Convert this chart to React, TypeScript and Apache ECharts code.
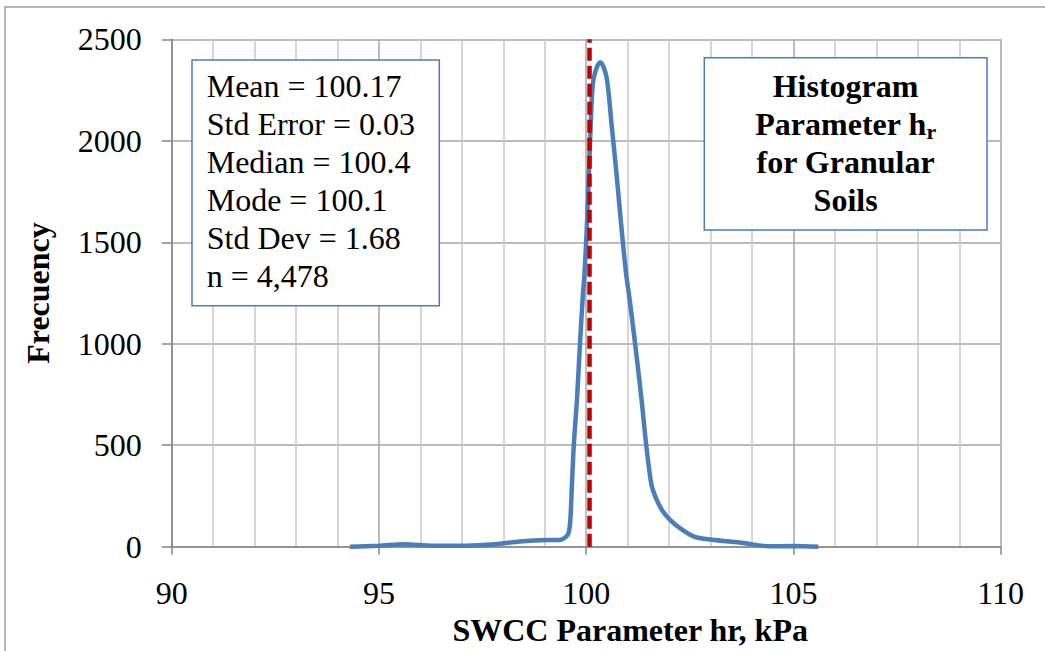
import React, { useEffect, useRef } from "react";
import * as echarts from "echarts";

// ---- data ----
const xValues = [
  94.3, 95.0, 95.6, 96.3, 97.1, 97.8, 98.4, 98.9, 99.35, 99.55, 99.61, 99.65, 99.7,
  99.78, 99.85, 99.92, 99.96, 100.02, 100.065, 100.11, 100.16, 100.25, 100.34, 100.49,
  100.61, 100.73, 100.84, 100.96, 101.04, 101.18, 101.33, 101.45, 101.57, 101.67,
  101.83, 102.03, 102.27, 102.6, 103.0, 103.8, 104.4, 105.0, 105.6,
];
const frequencies = [
  0, 5, 12, 5, 5, 12, 26, 32, 33, 57, 114, 278, 498,
  735, 1000, 1240, 1350, 1595, 1840, 2085, 2281, 2360, 2387, 2314,
  2085, 1840, 1595, 1350, 1230, 1000, 735, 498, 310, 245,
  180, 131, 90, 50, 35, 18, 2, 3, 0,
];
const markerX = 100.08;
const xMin = 90;
const xMax = 110;
const xStep = 5;
const yMin = 0;
const yMax = 2500;
const yStep = 500;
const statsLines = [
  "Mean = 100.17",
  "Std Error = 0.03",
  "Median = 100.4",
  "Mode = 100.1",
  "Std Dev = 1.68",
  "n = 4,478",
];
const titleLines = ["Histogram", "{b|Parameter h}{s|r}", "for Granular", "Soils"];
const xAxisTitle = "SWCC Parameter hr, kPa";
const yAxisTitle = "Frecuency";

const FONT = '"Liberation Serif", "Times New Roman", serif';

export default function App() {
  const ref = useRef<HTMLDivElement>(null);
  useEffect(() => {
    if (!ref.current) return;
    const chart = echarts.init(ref.current, undefined, { renderer: "svg" });
    const axisColor = "#868686";
    chart.setOption({
      animation: false,
      backgroundColor: "#ffffff",
      grid: { left: 171.7, top: 39.3, right: 44.3, bottom: 104.3, containLabel: false },
      xAxis: {
        type: "value",
        min: xMin,
        max: xMax,
        interval: xStep,
        name: xAxisTitle,
        nameLocation: "middle",
        nameGap: 58,
        nameTextStyle: {
          fontFamily: FONT,
          fontSize: 32,
          fontWeight: "bold",
          color: "#000",
          padding: [0, 0, 0, 88],
        },
        axisLine: { show: true, onZero: false, lineStyle: { color: axisColor, width: 1.5 } },
        axisTick: { show: true, length: 8, lineStyle: { color: axisColor, width: 1.5 } },
        minorTick: { show: false, splitNumber: 5 },
        splitLine: { show: true, lineStyle: { color: "#a6a6a6", width: 1.5 } },
        minorSplitLine: { show: true, lineStyle: { color: "#c8c8c8", width: 1.5 } },
        axisLabel: {
          fontFamily: FONT,
          fontSize: 32,
          color: "#000",
          margin: 30,
          formatter: (v: number) => String(v),
        },
      },
      yAxis: {
        type: "value",
        min: yMin,
        max: yMax,
        interval: yStep,
        name: yAxisTitle,
        nameLocation: "middle",
        nameGap: 118,
        nameRotate: 90,
        nameTextStyle: {
          fontFamily: FONT,
          fontSize: 32,
          fontWeight: "bold",
          color: "#000",
        },
        axisLine: { show: true, lineStyle: { color: axisColor, width: 1.5 } },
        axisTick: { show: true, length: 10, lineStyle: { color: axisColor, width: 1.5 } },
        splitLine: { show: true, lineStyle: { color: "#a6a6a6", width: 1.5 } },
        axisLabel: {
          fontFamily: FONT,
          fontSize: 32,
          color: "#000",
          margin: 30,
          formatter: (v: number) => String(v),
        },
      },
      series: [
        {
          type: "line",
          data: xValues.map((x, i) => [x, frequencies[i]]),
          smooth: 0.3,
          showSymbol: false,
          lineStyle: { color: "#4A7EBB", width: 4.5 },
          z: 2,
        },
        {
          type: "line",
          data: [
            [markerX, yMin],
            [markerX, yMax],
          ],
          showSymbol: false,
          lineStyle: { color: "#C00000", width: 4.5, type: [13, 5] },
          z: 3,
        },
      ],
      graphic: [
        {
          type: "rect",
          z: 100,
          silent: true,
          shape: { x: 5, y: 7, width: 1060, height: 680 },
          style: { fill: "none", stroke: "#a0a0a0", lineWidth: 1.5 },
        },
        {
          type: "rect",
          z: 100,
          shape: { x: 192, y: 60, width: 247.3, height: 245.7 },
          style: { fill: "#ffffff", stroke: "#4A7EBB", lineWidth: 1.5 },
        },
        {
          type: "text",
          z: 101,
          x: 206.7,
          y: 67,
          style: {
            text: statsLines.join("\n"),
            font: `32px ${FONT}`,
            lineHeight: 38,
            fill: "#000",
            align: "left",
            verticalAlign: "top",
          },
        },
        {
          type: "rect",
          z: 100,
          shape: { x: 704.3, y: 57.7, width: 282.7, height: 172.3 },
          style: { fill: "#ffffff", stroke: "#4A7EBB", lineWidth: 1.5 },
        },
        {
          type: "text",
          z: 101,
          x: 845.6,
          y: 66.5,
          style: {
            text: titleLines.join("\n"),
            font: `bold 32px ${FONT}`,
            lineHeight: 38,
            fill: "#000",
            align: "center",
            verticalAlign: "top",
            rich: {
              b: { font: `bold 32px ${FONT}`, lineHeight: 38, fill: "#000" },
              s: { font: `bold 22px ${FONT}`, lineHeight: 22, padding: [15, 0, 0, 0], fill: "#000" },
            },
          },
        },
      ],
    });
    return () => chart.dispose();
  }, []);
  return (
    <div
      ref={ref}
      style={{ position: "fixed", left: 0, top: 0, width: 1045, height: 651, background: "#fff" }}
    />
  );
}
